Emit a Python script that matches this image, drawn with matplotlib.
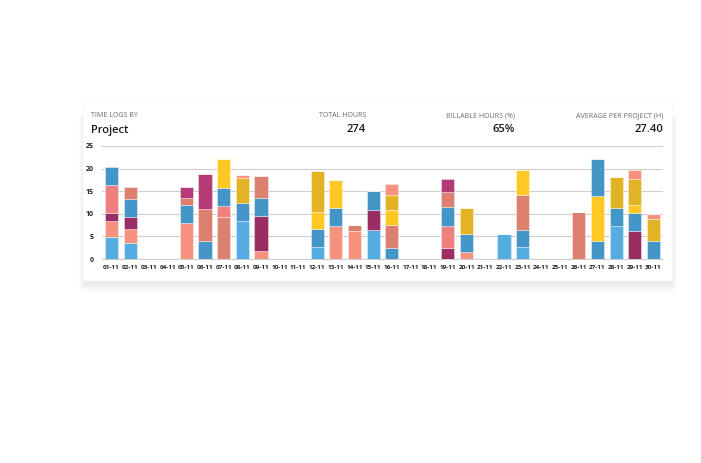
import matplotlib
matplotlib.use("Agg")
import matplotlib.pyplot as plt
from matplotlib.patches import FancyBboxPatch
import numpy as np

plt.rcParams['font.family'] = ['Open Sans', 'DejaVu Sans']

days = [f"{d:02d}-11" for d in range(1, 31)]

# project colour keys
colors = {
    'LB': '#55ACE0',  # light blue
    'B':  '#4596C8',  # blue
    'S':  '#F7927F',  # salmon
    'DS': '#DC8070',  # dark salmon
    'C':  '#F07F7F',  # coral pink
    'M':  '#9A2E63',  # maroon
    'Mg': '#B43A78',  # magenta
    'Y':  '#FFC825',  # yellow
    'G':  '#E2B325',  # gold
}

# stack layers (bottom -> top), one entry per day
layer1_hours = [4.8, 3.5, 0, 0, 8.0, 4.0, 9.2, 8.5, 1.8, 0, 0, 2.65, 7.3, 6.3, 6.4,
                2.5, 0, 0, 2.4, 1.55, 0, 5.6, 2.6, 0, 0, 10.4, 4.0, 7.4, 6.2, 4.0]
layer1_proj = ['LB', 'LB', None, None, 'S', 'B', 'DS', 'LB', 'S', None, None, 'LB', 'S', 'S', 'LB',
               'B', None, None, 'M', 'S', None, 'LB', 'LB', None, None, 'DS', 'B', 'LB', 'M', 'B']

layer2_hours = [3.5, 3.1, 0, 0, 3.9, 7.1, 2.5, 4.0, 7.7, 0, 0, 3.95, 4.0, 1.3, 4.5,
                5.1, 0, 0, 5.0, 3.95, 0, 0, 3.9, 0, 0, 0, 9.9, 3.9, 4.0, 4.8]
layer2_proj = ['S', 'S', None, None, 'B', 'DS', 'C', 'B', 'M', None, None, 'B', 'B', 'DS', 'M',
               'DS', None, None, 'C', 'B', None, None, 'B', None, None, None, 'Y', 'B', 'B', 'G']

layer3_hours = [1.95, 2.6, 0, 0, 1.7, 7.8, 4.0, 5.5, 4.1, 0, 0, 3.8, 6.2, 0, 4.1,
                3.2, 0, 0, 4.2, 5.8, 0, 0, 7.7, 0, 0, 0, 8.3, 6.8, 1.7, 1.2]
layer3_proj = ['M', 'M', None, None, 'DS', 'Mg', 'B', 'G', 'B', None, None, 'Y', 'Y', None, 'B',
               'Y', None, None, 'B', 'G', None, None, 'DS', None, None, None, 'B', 'G', 'Y', 'S']

layer4_hours = [6.05, 4.1, 0, 0, 2.3, 0, 6.5, 0.5, 4.8, 0, 0, 9.1, 0, 0, 0,
                3.3, 0, 0, 3.3, 0, 0, 0, 5.6, 0, 0, 0, 0, 0, 5.7, 0]
layer4_proj = ['C', 'B', None, None, 'Mg', None, 'Y', 'S', 'DS', None, None, 'G', None, None, None,
               'G', None, None, 'DS', None, None, None, 'Y', None, None, None, None, None, 'G', None]

layer5_hours = [4.0, 2.6, 0, 0, 0, 0, 0, 0, 0, 0, 0, 0, 0, 0, 0,
                2.4, 0, 0, 2.7, 0, 0, 0, 0, 0, 0, 0, 0, 0, 2.2, 0]
layer5_proj = ['B', 'DS', None, None, None, None, None, None, None, None, None, None, None, None, None,
               'S', None, None, 'Mg', None, None, None, None, None, None, None, None, None, 'S', None]

layers = [(layer1_hours, layer1_proj), (layer2_hours, layer2_proj), (layer3_hours, layer3_proj),
          (layer4_hours, layer4_proj), (layer5_hours, layer5_proj)]

stat_labels = ['TOTAL HOURS', 'BILLABLE HOURS (%)', 'AVERAGE PER PROJECT (H)']
stat_values = ['274', '65%', '27.40']
yticks = [0, 5, 10, 15, 20, 25]

W, H = 701, 463
fig = plt.figure(figsize=(W / 100, H / 100), dpi=100)
fig.patch.set_facecolor('white')

def fx(px):
    return px / W

def fy(py):
    return 1 - py / H

# card with soft shadow (mostly below the card)
cx0, cy0, cx1, cy1 = 83, 101, 673, 281
for i in range(1, 14):
    spread = i * 0.45
    drop = i * 0.85
    top = cy0 + 14
    sh = FancyBboxPatch((fx(cx0 - spread + 2), fy(cy1 + drop)),
                        fx(cx1 - cx0 + 2 * spread - 4), (cy1 + drop - top) / H,
                        boxstyle="round,pad=0,rounding_size=0.01",
                        transform=fig.transFigure, facecolor='black',
                        edgecolor='none', alpha=0.0075, zorder=0)
    fig.patches.append(sh)
card = FancyBboxPatch((fx(cx0), fy(cy1)), fx(cx1 - cx0), (cy1 - cy0) / H,
                      boxstyle="round,pad=0,rounding_size=0.003",
                      transform=fig.transFigure, facecolor='white',
                      edgecolor='#f4f4f4', linewidth=0.5, zorder=1)
fig.patches.append(card)

# header texts
fig.text(fx(91), fy(116), 'TIME LOGS BY', fontsize=5.1, color='#6b6b6b', va='center', ha='left')
fig.text(fx(91), fy(130), 'Project', fontsize=8, color='#1a1a1a', fontweight='semibold',
         va='center', ha='left')
stat_x = [366, 515, 663]
for x, lab, val in zip(stat_x, stat_labels, stat_values):
    fig.text(fx(x), fy(116), lab, fontsize=5.1, color='#6b6b6b', va='center', ha='right')
    fig.text(fx(x), fy(130), val, fontsize=8, color='#1a1a1a', fontweight='semibold',
             va='center', ha='right')

# chart axes
ax = fig.add_axes([fx(102.2), fy(259), fx(662.8 - 102.2), 113 / H])
ax.set_facecolor('none')
ax.set_zorder(2)
x = np.arange(len(days))
bottom = np.zeros(len(days))
for hours, proj in layers:
    h = np.array(hours, dtype=float)
    cols = [colors[p] if p else 'none' for p in proj]
    ax.bar(x, h, bottom=bottom, width=0.7, color=cols,
           edgecolor=(1, 1, 1, 0.45), linewidth=0.6, zorder=3)
    bottom += h

ax.set_xlim(-0.5, len(days) - 0.5)
ax.set_ylim(0, 25)
ax.set_yticks(yticks)
ax.set_yticklabels([str(t) for t in yticks], fontsize=5, fontweight='bold', color='#222222')
ax.set_xticks(x)
ax.set_xticklabels(days, fontsize=4.6, fontweight='bold', color='#222222')
ax.tick_params(axis='both', length=0)
ax.tick_params(axis='y', pad=6)
ax.tick_params(axis='x', pad=4)
ax.yaxis.grid(True, color='#cfcfcf', linewidth=0.8, zorder=0)
ax.set_axisbelow(True)
for s in ['top', 'right', 'left']:
    ax.spines[s].set_visible(False)
ax.spines['bottom'].set_color('#cfcfcf')
ax.spines['bottom'].set_linewidth(0.8)

fig.savefig('out.png', dpi=100, facecolor='white')
